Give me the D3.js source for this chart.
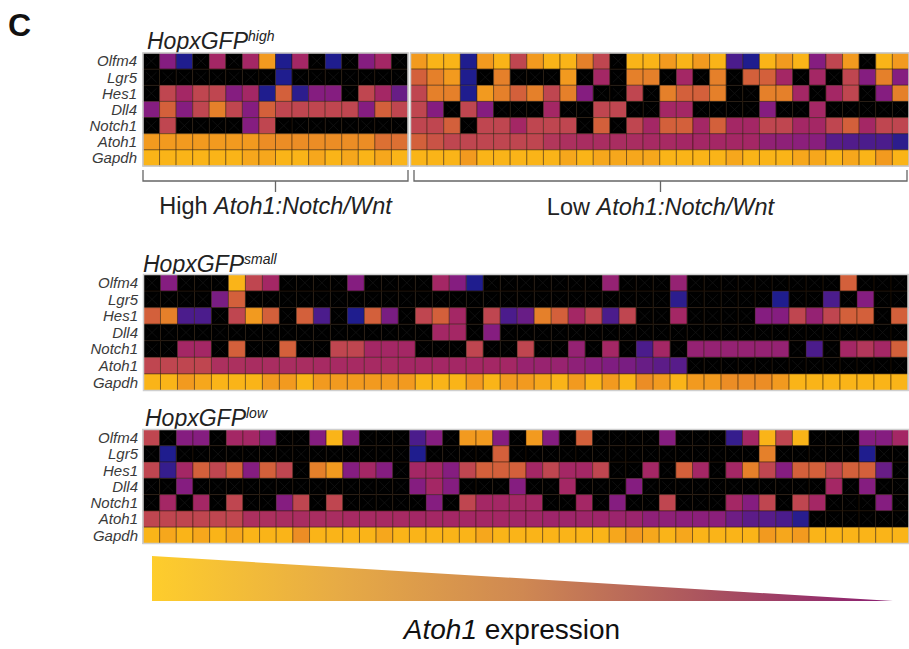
<!DOCTYPE html>
<html>
<head>
<meta charset="utf-8">
<script src="https://cdn.jsdelivr.net/npm/d3@7"></script>
<style>
  body { margin: 0; background: #fff; }
  svg { display: block; font-family: "Liberation Sans", Arial, Helvetica, sans-serif; }
</style>
</head>
<body>
<div id="chart"></div>
<script>
// genes (rows), top to bottom
const genes = ["Olfm4", "Lgr5", "Hes1", "Dll4", "Notch1", "Atoh1", "Gapdh"];

// expression level per cell: 0 = not detected (black), 1 = lowest (blue) ... 9 = highest (yellow)
// HopxGFP high, "High Atoh1:Notch/Wnt" group (16 cells)
const highA = [
  [0,3,1,0,4,0,4,8,1,4,0,1,0,3,4,0],
  [0,0,0,0,0,0,0,0,1,0,0,0,0,0,0,0],
  [0,5,4,5,5,3,4,1,6,1.3,3,3,0,5,4,2.5],
  [3,6,3,5,7,5,3,6,5,5,5,5,5,3,6,5],
  [0,5,0,0,0,0,3,5,0,0,0,0,0,0,0,0],
  [8,8,8,8,8,8,8,7.5,7.5,7.5,7.5,7.5,7.5,7.5,6.5,6.5],
  [9,9,9,9,9,9,8.5,8.5,9,9,8.5,9,8.5,9,8.5,9]
];
// HopxGFP high, "Low Atoh1:Notch/Wnt" group (30 cells)
const highB = [
  [8,9,9,1,8,9,5,8,9,9,7,5,0,9,9,8,9,8,9,2,1,9,8,9,3,5,8,0,9,8],
  [6,7,8,1,0,7,0,0,0,8,0,4,0,7,7,0,4,0,7,0,6,6,4,0,4,0,5,3,7,3],
  [5,7,7,1,8,7,6,7,5,7,3,0,0,5,0,7,6,6,7,0,0,7,7,4,0,4,5,0,3,7],
  [5,3,0,5,3,0,0,0,4,0,0,5,5,0,0,4,4,0,0,0,0,3,0,0,4,0,0,0,0,0],
  [5,5,6,0,5,5,4,5,5,5,0,6,0,5,4,6,6,4,6,4,4,5,5,4,4,5,6,4,5,5],
  [6,5.5,5,5,5,5,5,5,4.5,4.3,4.2,4.2,4.2,4.2,4.1,4.1,4,4,4,4,4,3.4,3.3,3.2,3.1,2.2,2.1,2,2,1.3],
  [9,9,9,8,9,9,9,9,9,8.5,9,8.5,8.5,8.5,8.5,9,9,9,9,8.5,9,9,9,8.5,8.5,9,8.5,9,8,9]
];
// HopxGFP small (45 cells)
const small = [
  [0,3,0,0,0,9,5,4,0,0,0,0,3,0,0,0,0,4,3,1,0, 0,0,0,0,0,0,3.5,0,0,0,3.5,0,0,0,0,0,0,0,0,0,6,0,0,0],
  [0,0,0,0,2.8,6,0,0,0,0,0,0,0,0,0,0,0,0,0,0,0, 0,0,0,0,0,0,0,0,0,0,1.3,0,0,0,0,0,1,0,0,2,0,3,0,0],
  [6,7,2,2,0,5,8,6,0,6,2,0,1,6,2.8,0,5,6,4,0,5, 2,2.5,7,6,4,5,2,5,0,0,4,0,0,0,0,3,3,5,3.5,5,6,6,0,6],
  [0,0,0,0,0,0,0,0,0,0,0,0,0,0,0,0,0,4,4,0,3, 0,0,0,0,0,0,0,0,0,0,0,0,0,0,0,0,0,0,0,0,0,0,0,0],
  [0,0,4,4,0,6,0,0,6,0,0,5,5,4,4,4,0,0,0,5,0, 0,5,0,0,3.5,0,4,0,2,4,0,3.5,3.5,3.5,3.5,3.5,3.5,0,2,0,4,4.5,4,6],
  [5,5,5,5,4.3,4.3,4.2,4.2,4.2,4.2,4.1,4.1,4.1,4.1,4.1,4,4,4,4,4,4, 4,3.6,3.6,3.6,3.3,3.1,2.9,2.8,2.5,2.3,2.2,0,0,0,0,0,0,0,0,0,0,0,0,0],
  [9,9,8,8.5,9,9,9,8,8,9,8,8,8,8,8,8,9,9,9,8,9.5, 8,8,8.5,9,8,9,8,9,7.5,8,9,8,8,7.5,7.5,7.5,8,9,9,9,9,9,9,9]
];
// HopxGFP low (46 cells)
const low = [
  [5,0,3,3,0,4,4,3,0,0,3,9,3,0,0,0,2,3,0,8,8,3, 0,8,3,0,6,0,0,0,0,3,0,0,0,1.5,4,9,5,9,0,0,0,3,3,4],
  [0,1,0,0,0,0,0,0,0,0,0,0,0,0,0,0,1,0,0,0,0,6, 0,0,0,0,0,0,0,0,0,0,0,0,0,0,0,7,0,0,0,0,0,1,0,0],
  [5,1.5,4,6,5,6,3,6,5,0,7,8,3,4,3,0,4,4,3,5,6,6, 6,4,5,4,4,5,0,0,4,0,6,4,0,4,7,5,3,6,6,5,6,6,2.5,0],
  [0,0,3,0,0,0,0,0,0,0,0,0,0,0,0,0,3,4,3,0,0,0, 3,0,0,4,0,0,0,3,0,0,0,0,0,0,0,0,0,0,0,4,0,3,0,0],
  [0,4,0,4,0,5,0,0,3,5,0,5,0,0,0,0,0,3,0,5,4,4, 4,4,0,0,4,0,3,0,0,5,0,0,0,4,3,5,0,5,4,0,0,0,3,0],
  [5,5,5,5,5,5,4.3,4.3,4.2,4.2,4.2,4.2,4.1,4.1,4.1,4.1,4,4,4,4,4,4, 3.9,3.9,3.8,3.8,3.8,3.8,3.7,3.7,3.3,3.3,3.2,3.2,3.2,2.6,2.3,2.2,2,1.2,0,0,0,0,0,0],
  [9,8.5,9,8.5,9,8.5,9,9,9,7.5,9,9,9,9,8.5,9,9,9,9,9,8.5,9, 9,9,9,9,9,9,8.5,8,8.5,9,8.5,9,9,9,9,8,8.5,8,9,9,9,9,9,9]
];

const panelTitles = ["high", "small", "low"];
const groupNames = ["High", "Low"];

// colour ramp for levels 1..9
const levelColors = ["#1f1d8e", "#4b1c8c", "#851d80", "#a42765", "#bf4650", "#d3603b", "#e5802a", "#f29a1f", "#fab418"];
const color = d3.scaleLinear().domain(d3.range(1, 10)).range(levelColors).clamp(true);

const W = 909, H = 649;
const svg = d3.select("#chart").append("svg").attr("width", W).attr("height", H);

function drawBlock(rows, x0, x1, y0, y1) {
  const x = d3.scaleBand().domain(d3.range(rows[0].length)).range([x0, x1]);
  const y = d3.scaleBand().domain(genes).range([y0, y1]);
  const cells = rows.flatMap((r, i) => r.map((v, j) => ({gene: genes[i], col: j, v: v})));
  const g = svg.append("g");

  g.selectAll("rect.cell")
    .data(cells)
    .join("rect")
    .attr("class", "cell")
    .attr("x", d => x(d.col))
    .attr("y", d => y(d.gene))
    .attr("width", x.bandwidth())
    .attr("height", y.bandwidth())
    .attr("fill", d => d.v ? color(d.v) : "#000")
    .attr("stroke", "rgba(40,20,0,0.45)")
    .attr("stroke-width", 1);

  // faint crosses on the not-detected cells
  g.selectAll("path.nd")
    .data(cells.filter(d => !d.v))
    .join("path")
    .attr("class", "nd")
    .attr("d", d => {
      const a = x(d.col), b = y(d.gene), w = x.bandwidth(), h = y.bandwidth();
      return `M${a + 3},${b + 3}L${a + w - 3},${b + h - 3}M${a + w - 3},${b + 3}L${a + 3},${b + h - 3}`;
    })
    .attr("stroke", "#161616")
    .attr("stroke-width", 0.7)
    .attr("fill", "none");

  g.append("rect")
    .attr("x", x0).attr("y", y0)
    .attr("width", x1 - x0).attr("height", y1 - y0)
    .attr("fill", "none")
    .attr("stroke", "#cfcfcf")
    .attr("stroke-width", 1.5);
  return y;
}

function geneLabels(y, xr) {
  svg.append("g")
    .selectAll("text")
    .data(genes)
    .join("text")
    .attr("x", xr)
    .attr("y", d => y(d) + y.bandwidth() / 2)
    .attr("dy", "0.36em")
    .attr("text-anchor", "end")
    .attr("font-style", "italic")
    .attr("font-size", 15)
    .attr("fill", "#3a3a3a")
    .text(d => d);
}

function title(sup, x, y) {
  const t = svg.append("text")
    .attr("x", x).attr("y", y)
    .attr("font-style", "italic")
    .attr("font-size", 23)
    .attr("fill", "#222");
  t.append("tspan").text("HopxGFP");
  t.append("tspan").attr("font-size", 14).attr("dy", -8).text(sup);
}

function bracket(x0, x1, yTop, yLine, yTick, name, yText) {
  const xm = (x0 + x1) / 2;
  svg.append("path")
    .attr("d", `M${x0},${yTop}V${yLine}H${x1}V${yTop}M${xm},${yLine}V${yTick}`)
    .attr("fill", "none")
    .attr("stroke", "#666")
    .attr("stroke-width", 1.3);
  const t = svg.append("text")
    .attr("x", xm).attr("y", yText)
    .attr("text-anchor", "middle")
    .attr("font-size", 23.5)
    .attr("fill", "#222");
  t.append("tspan").text(name + " ");
  t.append("tspan").attr("font-style", "italic").text("Atoh1:Notch/Wnt");
}

// panel label
svg.append("text").attr("x", 8).attr("y", 36)
  .attr("font-size", 32).attr("font-weight", "bold").attr("fill", "#111").text("C");

// HopxGFP high
title(panelTitles[0], 147, 49);
const y1 = drawBlock(highA, 143, 408, 53, 166);
drawBlock(highB, 410.5, 909, 53, 166);
geneLabels(y1, 137);
bracket(143, 408, 170, 181, 192, groupNames[0], 214);
bracket(414, 907, 170, 181, 192, groupNames[1], 215);

// HopxGFP small
title(panelTitles[1], 143, 272);
const y2 = drawBlock(small, 143.5, 908, 274.5, 390.5);
geneLabels(y2, 138);

// HopxGFP low
title(panelTitles[2], 145, 426);
const y3 = drawBlock(low, 143, 909, 429.5, 543.5);
geneLabels(y3, 138);

// Atoh1 expression wedge
const wedgeX = d3.scaleLinear().domain([1, 0]).range([152, 893]);
const wedgeH = d3.scaleLinear().domain([0, 1]).range([601, 556]);
const grad = svg.append("defs").append("linearGradient")
  .attr("id", "wedge").attr("x1", "0%").attr("x2", "100%");
[["0%", "#fecd2c"], ["25%", "#e7ab45"], ["50%", "#cf8852"], ["75%", "#aa535f"], ["100%", "#8a1d72"]]
  .forEach(s => grad.append("stop").attr("offset", s[0]).attr("stop-color", s[1]));
svg.append("path")
  .attr("d", d3.line()([[wedgeX(1), wedgeH(1)], [wedgeX(0), wedgeH(0)], [wedgeX(1), wedgeH(0)]]) + "Z")
  .attr("fill", "url(#wedge)");

const xl = svg.append("text").attr("x", 512).attr("y", 639)
  .attr("text-anchor", "middle").attr("font-size", 28).attr("fill", "#111");
xl.append("tspan").attr("font-style", "italic").text("Atoh1");
xl.append("tspan").text(" expression");
</script>
</body>
</html>
